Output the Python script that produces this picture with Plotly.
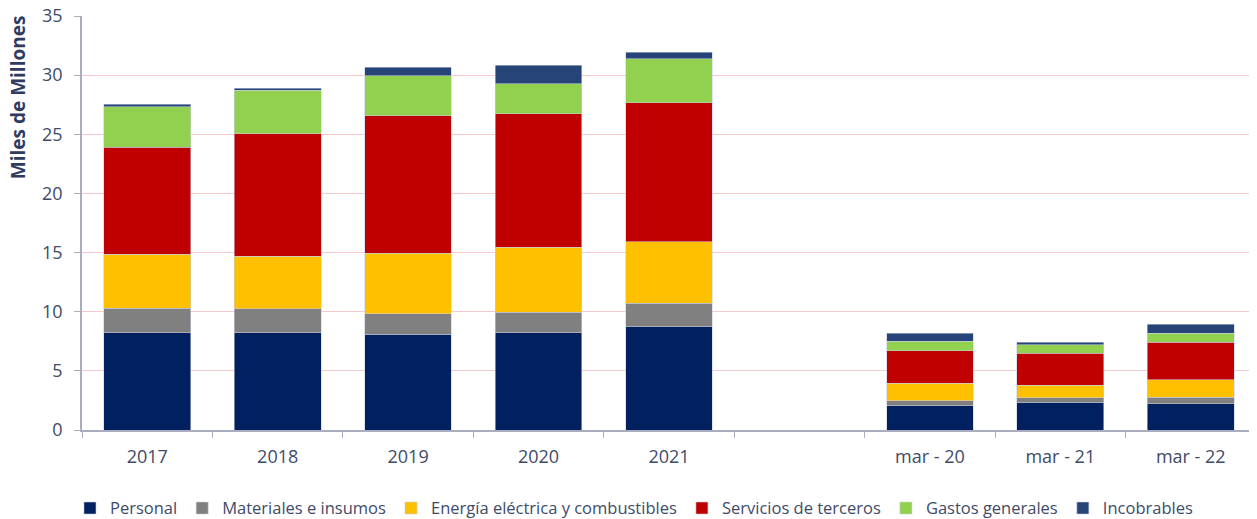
import plotly.graph_objects as go

# categories (blank slot keeps the gap between annual and quarterly bars)
categories = ["2017", "2018", "2019", "2020", "2021", " ", "mar - 20", "mar - 21", "mar - 22"]

# stacked values, Miles de Millones
personal = [8.22, 8.22, 8.11, 8.22, 8.73, None, 2.06, 2.31, 2.22]
materiales = [2.09, 2.01, 1.72, 1.73, 1.98, None, 0.42, 0.42, 0.57]
energia = [4.54, 4.48, 5.10, 5.49, 5.21, None, 1.49, 1.07, 1.46]
servicios = [9.07, 10.34, 11.64, 11.30, 11.75, None, 2.74, 2.68, 3.16]
gastos = [3.41, 3.69, 3.38, 2.53, 3.72, None, 0.79, 0.73, 0.79]
incobrables = [0.23, 0.14, 0.73, 1.56, 0.54, None, 0.67, 0.23, 0.73]

series = [
    ("Personal", personal, "#002060"),
    ("Materiales e insumos", materiales, "#808080"),
    ("Energía eléctrica y combustibles", energia, "#FFC000"),
    ("Servicios de terceros", servicios, "#C00000"),
    ("Gastos generales", gastos, "#92D050"),
    ("Incobrables", incobrables, "#264478"),
]

text_color = "#404B69"
axis_color = "#A9ADBF"

fig = go.Figure()
for name, vals, color in series:
    fig.add_trace(go.Bar(
        x=categories,
        y=vals,
        name=name,
        marker=dict(color=color, line=dict(color="rgba(200,205,220,0.7)", width=0.8)),
    ))

# page body has an 8px margin, so the margins below are shifted by 8px
fig.update_layout(
    barmode="stack",
    bargap=0.335,
    width=1257,
    height=519,
    paper_bgcolor="white",
    plot_bgcolor="white",
    font=dict(family="Open Sans, sans-serif", size=18, color=text_color),
    margin=dict(l=74, r=9, t=8, b=97),
    legend=dict(
        orientation="h",
        xref="container",
        yref="container",
        x=0.498,
        xanchor="center",
        y=0.036,
        yanchor="middle",
        font=dict(size=16.5, color=text_color),
        itemwidth=30,
        traceorder="normal",
    ),
    xaxis=dict(
        type="category",
        categoryorder="array",
        categoryarray=categories,
        automargin=False,
        showline=True,
        linecolor=axis_color,
        linewidth=1.5,
        ticks="outside",
        tickson="boundaries",
        ticklen=6,
        tickcolor=axis_color,
        ticklabelstandoff=10,
        showgrid=False,
    ),
    yaxis=dict(
        range=[0, 35],
        dtick=5,
        automargin=False,
        showline=True,
        linecolor=axis_color,
        linewidth=1.5,
        ticks="outside",
        ticklen=6,
        tickcolor=axis_color,
        ticklabelstandoff=8,
        ticklabeloverflow="allow",
        gridcolor="#F6C9CF",
        gridwidth=1,
        zeroline=False,
    ),
    annotations=[dict(
        text="<b>Miles de Millones</b>",
        textangle=-90,
        xref="paper", yref="paper",
        x=-0.0545, y=0.804,
        xanchor="center", yanchor="middle",
        showarrow=False,
        font=dict(size=19, color="#2F3B5E"),
    )],
)

fig.write_html("out.html")
